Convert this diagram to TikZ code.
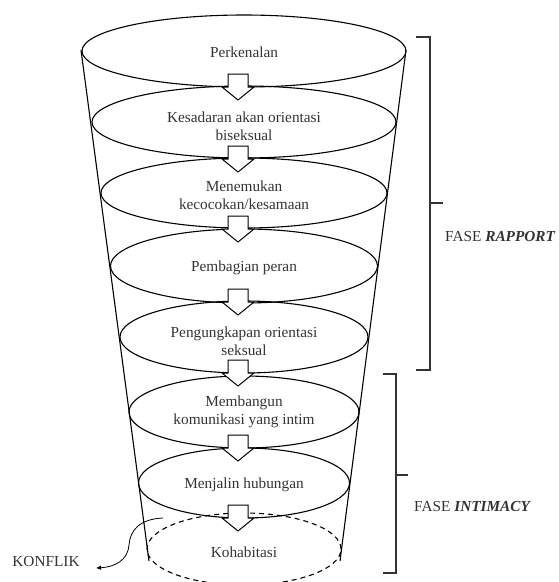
\documentclass[tikz,border=0pt]{standalone}
\usepackage{fontspec}
\setmainfont{Liberation Serif}
\usetikzlibrary{arrows.meta}
\begin{document}
\begin{tikzpicture}[x=1pt,y=-1pt,
  stage/.style={draw, line width=1.1pt},
  lbl/.style={font=\fontsize{15.3}{18}\selectfont, text=black!80, align=center, inner sep=0pt},
  flow/.style={draw, line width=1pt, fill=white, line join=miter},
  brace/.style={draw=black!80, line width=1.1pt},
]
\useasboundingbox (0,0) rectangle (558,582);

% funnel sides
\draw[stage] (81,50) -- (149,561);
\draw[stage] (406,50) -- (340,561);

% stage rings
\draw[stage] (244,51)  ellipse [x radius=162pt, y radius=36pt];
\draw[stage] (244,122) ellipse [x radius=152pt, y radius=36pt];
\draw[stage] (244,193) ellipse [x radius=143pt, y radius=35pt];
\draw[stage] (244,266) ellipse [x radius=133.5pt, y radius=37pt];
\draw[stage] (244,337) ellipse [x radius=124pt, y radius=36pt];
\draw[stage] (244,412) ellipse [x radius=115pt, y radius=36pt];
\draw[stage] (244,483) ellipse [x radius=105.5pt, y radius=35pt];
\draw[stage, dash pattern=on 5pt off 4pt] (244,549) ellipse [x radius=97pt, y radius=36pt];

% block arrows between the rings
\foreach \yb in {87,159,229,302,373,448,518} {
  \draw[flow] (228,{\yb-13}) -- (248,{\yb-13}) -- (248,\yb) -- (254,\yb)
    -- (238,{\yb+13}) -- (222,\yb) -- (228,\yb) -- cycle;
}

% stage labels
\node[lbl] (t1) at (244,52)  {Perkenalan};
\node[lbl] (t2) at (244,126) {Kesadaran akan orientasi\\biseksual};
\node[lbl] (t3) at (244,195) {Menemukan\\kecocokan/kesamaan};
\node[lbl] (t4) at (244,268) {Pembagian peran};
\node[lbl] (t5) at (244,341) {Pengungkapan orientasi\\seksual};
\node[lbl] (t6) at (244,412) {Membangun\\komunikasi yang intim};
\node[lbl] (t7) at (244,485) {Menjalin hubungan};
\node[lbl] (t8) at (244,552) {Kohabitasi};

% phase brackets
\draw[brace] (416,37) -- (430,37) -- (430,370) -- (416,370);
\draw[brace] (430,203) -- (443,203);
\node[lbl, anchor=west] (rapport) at (445,237) {FASE \textbf{\textit{RAPPORT}}};

\draw[brace] (383,374) -- (396,374) -- (396,573) -- (383,573);
\draw[brace] (396,475) -- (408,475);
\node[lbl, anchor=west] (intimacy) at (414,507) {FASE \textbf{\textit{INTIMACY}}};

% conflict branch
\node[lbl] (konflik) at (46,562) {KONFLIK};
\coordinate (kstart) at (163,518);
\coordinate (ktip) at (96,568);
\draw[line width=0.8pt, -{Latex[length=5pt,width=4.5pt]}] (kstart)
  .. controls (140,519) and (130,530) .. (129,545)
  .. controls (128,560) and (115,567) .. (ktip);
\end{tikzpicture}
\end{document}
